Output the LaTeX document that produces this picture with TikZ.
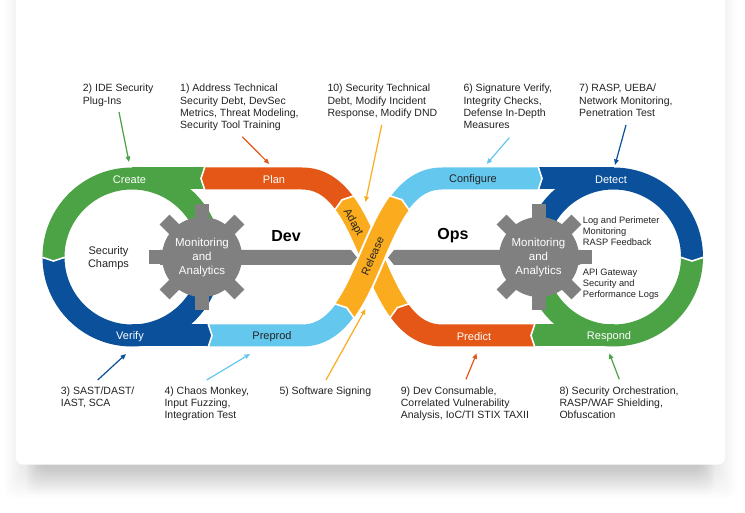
\documentclass[tikz,border=0pt]{standalone}
\usepackage{fontspec}
\setmainfont{Liberation Sans}
\usetikzlibrary{arrows.meta}
\definecolor{cgreen}{RGB}{76,163,69}
\definecolor{corange}{RGB}{228,87,22}
\definecolor{cdblue}{RGB}{10,80,155}
\definecolor{clblue}{RGB}{100,200,238}
\definecolor{cyellow}{RGB}{250,172,30}
\definecolor{cgray}{RGB}{128,128,128}
\definecolor{ctext}{RGB}{35,35,35}
\newcommand{\chev}[3]{%
  \begin{scope}[shift={#1}, rotate=#2]
    \fill[#3] (-1,-11) -- (0,-11) -- (4,0) -- (0,11) -- (-1,11) -- cycle;
    \draw[white, line width=1.6pt] (0,-12.3) -- (4,0) -- (0,12.3);
  \end{scope}}
\newcommand{\mygear}[1]{%
  \begin{scope}[shift={#1}]
    \fill[cgray] (0,0) circle[radius=40];
    \foreach \a in {0,45,...,315} {\fill[cgray, rotate=\a] (-7,0) rectangle (7,53);}
  \end{scope}}
\begin{document}
\begin{tikzpicture}[x=1pt,y=-1pt,
  band/.style={line width=22pt},
  ann/.style={anchor=north west, inner sep=0pt, align=left, text=ctext, font=\fontsize{10.5}{12.4}\selectfont},
  side/.style={anchor=north west, inner sep=0pt, align=left, text=ctext, font=\fontsize{9.3}{11.2}\selectfont},
  blab/.style={inner sep=0pt, font=\fontsize{11}{13}\selectfont, text=white},
  dlab/.style={inner sep=0pt, font=\fontsize{11}{13}\selectfont, text=ctext},
  conn/.style={line width=1.2pt, -{Triangle[length=5.5pt,width=4.5pt]}}]
\useasboundingbox (0,0) rectangle (745,513);
% shadow and card
\foreach \i in {0,...,24} {
  \fill[black, opacity=0.0045, rounded corners=10pt] ({28-\i},-20) rectangle ({713+\i},{468+\i*1.3});
}
\foreach \i in {0,...,14} {
  \fill[black, opacity=0.006, rounded corners=10pt] ({40-\i},300) rectangle ({701+\i},{470+\i*1.8});
}
\fill[white, rounded corners=7pt] (16,-20) rectangle (725,464.5);
% rings
\begin{scope}\clip (20,140) rectangle (250,257); \draw[cgreen, band] (132,257) circle[radius=78.5]; \end{scope}
\begin{scope}\clip (20,257) rectangle (250,380); \draw[cdblue, band] (132,257) circle[radius=78.5]; \end{scope}
\begin{scope}\clip (490,140) rectangle (725,257); \draw[cdblue, band] (613.5,257) circle[radius=78.5]; \end{scope}
\begin{scope}\clip (490,257) rectangle (725,380); \draw[cgreen, band] (613.5,257) circle[radius=78.5]; \end{scope}
% straight and curved bands
\draw[cgreen, band] (132,178.5) -- (205,178.5);
\draw[corange, band] (205,178.5) -- (302,178.5) .. controls (320.25,178.5) and (333.56,188.31) .. (344.41,203.03);
\draw[cdblue, band] (132,335.5) -- (208,335.5);
\draw[clblue, band] (208,335.5) -- (302,335.5) .. controls (320.25,335.5) and (333.56,325.69) .. (344.41,310.97);
\draw[cyellow, band] (344.41,203.03) .. controls (366.1,232.47) and (377.9,281.53) .. (399.59,310.97);
\draw[corange, band] (399.59,310.97) .. controls (410.44,325.69) and (423.75,335.5) .. (442,335.5) -- (535,335.5);
\draw[cgreen, band] (535,335.5) -- (613.5,335.5);
\draw[clblue, band] (399.59,203.03) .. controls (410.44,188.31) and (423.75,178.5) .. (442,178.5) -- (538,178.5);
\draw[cdblue, band] (538,178.5) -- (613.5,178.5);
% chevrons
\chev{(205,178.5)}{180}{corange}
\chev{(53.5,257)}{-90}{cgreen}
\chev{(208,335.5)}{0}{cdblue}
\chev{(538,178.5)}{0}{clblue}
\chev{(692,257)}{-90}{cdblue}
\chev{(535,335.5)}{180}{cgreen}
\chev{(399.59,310.97)}{126.4}{corange}
\chev{(344.41,203.03)}{126.4}{cyellow}
% release over adapt
\draw[white, line width=27pt] (344.41,310.97) .. controls (366.1,281.53) and (377.9,232.47) .. (399.59,203.03);
\draw[cyellow, line width=23pt] (344.41,310.97) .. controls (366.1,281.53) and (377.9,232.47) .. (399.59,203.03);
\chev{(344.41,310.97)}{53.6}{clblue}
\chev{(399.59,203.03)}{53.6}{cyellow}
% bars and gears
\fill[cgray] (160,250) -- (351,250) -- (357,257.5) -- (351,265) -- (160,265) -- cycle;
\fill[cgray] (580,250) -- (394,250) -- (388,257.5) -- (394,265) -- (580,265) -- cycle;
\mygear{(202,257)}
\mygear{(539,257)}
% gear texts
\node[inner sep=0pt, align=center, text=white, font=\fontsize{11.5}{14}\selectfont] (gL) at (202,258) {Monitoring\\and\\Analytics};
\node[inner sep=0pt, align=center, text=white, font=\fontsize{11.5}{14}\selectfont] (gR) at (538.5,258) {Monitoring\\and\\Analytics};
\node[inner sep=0pt, align=center, text=ctext, font=\fontsize{11}{12.8}\selectfont] (champ) at (108.5,258) {Security\\Champs};
\node[inner sep=0pt, text=black, font=\fontsize{16}{18}\bfseries] (dev) at (286,236) {Dev};
\node[inner sep=0pt, text=black, font=\fontsize{16}{18}\bfseries] (ops) at (453,236) {Ops};
\node[side] (sideA) at (582.7,216.5) {Log and Perimeter\\Monitoring\\RASP Feedback};
\node[side] (sideB) at (582.7,268.5) {API Gateway\\Security and\\Performance Logs};
% band labels
\node[blab] (tCreate) at (129.5,180) {Create};
\node[blab] (tPlan) at (274,180) {Plan};
\node[blab] (tVerify) at (130,337) {Verify};
\node[dlab] (tPreprod) at (272,337) {Preprod};
\node[dlab] (tConfig) at (473,180) {Configure};
\node[blab] (tDetect) at (611,180) {Detect};
\node[blab] (tPredict) at (474,337) {Predict};
\node[blab] (tRespond) at (609,337) {Respond};
\node[dlab, rotate=-60] (tAdapt) at (353,222.5) {Adapt};
\node[dlab, rotate=66] (tRelease) at (372.5,256) {Release};
% annotations
\node[ann] (n2) at (82.7,83.8) {2) IDE Security\\Plug-Ins};
\node[ann] (n1) at (180,83.8) {1) Address Technical\\Security Debt, DevSec\\Metrics, Threat Modeling,\\Security Tool Training};
\node[ann] (n10) at (327.3,83.8) {10) Security Technical\\Debt, Modify Incident\\Response, Modify DND};
\node[ann] (n6) at (463.3,83.8) {6) Signature Verify,\\Integrity Checks,\\Defense In-Depth\\Measures};
\node[ann] (n7) at (579,83.8) {7) RASP, UEBA/\\Network Monitoring,\\Penetration Test};
\node[ann] (n3) at (60.7,386.2) {3) SAST/DAST/\\IAST, SCA};
\node[ann] (n4) at (164.3,386.2) {4) Chaos Monkey,\\Input Fuzzing,\\Integration Test};
\node[ann] (n5) at (279.3,386.2) {5) Software Signing};
\node[ann] (n9) at (400.7,386.2) {9) Dev Consumable,\\Correlated Vulnerability\\Analysis, IoC/TI STIX TAXII};
\node[ann] (n8) at (559.3,386.2) {8) Security Orchestration,\\RASP/WAF Shielding,\\Obfuscation};
% arrows
\coordinate (a2s) at (119,112); \coordinate (a2e) at (129,162);
\coordinate (a1s) at (242.3,136.7); \coordinate (a1e) at (269.3,164);
\coordinate (a10s) at (381.7,125); \coordinate (a10e) at (365.5,202);
\coordinate (a6s) at (509.3,137.7); \coordinate (a6e) at (486.7,164);
\coordinate (a7s) at (626,125); \coordinate (a7e) at (615,165);
\coordinate (a3s) at (97.7,380); \coordinate (a3e) at (126,354);
\coordinate (a4s) at (206.7,380); \coordinate (a4e) at (250,354);
\coordinate (a5s) at (326,380); \coordinate (a5e) at (365.5,309);
\coordinate (a9s) at (466,379.3); \coordinate (a9e) at (476.7,353.3);
\coordinate (a8s) at (619.3,379.3); \coordinate (a8e) at (609.3,353.3);
\draw[conn, cgreen] (a2s) -- (a2e);
\draw[conn, corange] (a1s) -- (a1e);
\draw[conn, cyellow] (a10s) -- (a10e);
\draw[conn, clblue] (a6s) -- (a6e);
\draw[conn, cdblue] (a7s) -- (a7e);
\draw[conn, cdblue] (a3s) -- (a3e);
\draw[conn, clblue] (a4s) -- (a4e);
\draw[conn, cyellow] (a5s) -- (a5e);
\draw[conn, corange] (a9s) -- (a9e);
\draw[conn, cgreen] (a8s) -- (a8e);
\end{tikzpicture}
\end{document}
